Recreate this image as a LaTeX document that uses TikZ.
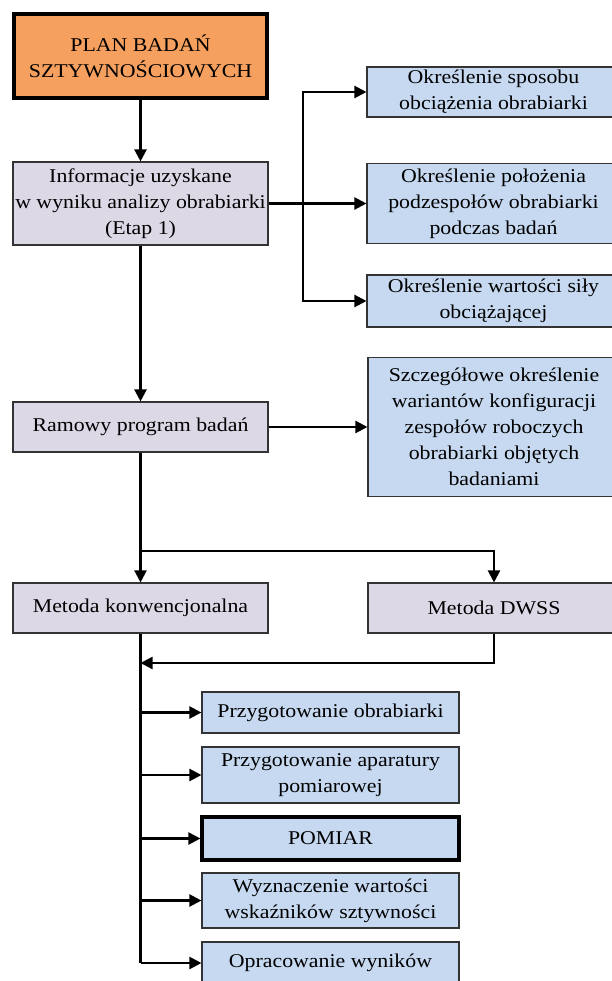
\documentclass[tikz,border=0pt]{standalone}
\usepackage{fontspec}
\setmainfont{Liberation Serif}[FakeStretch=1.12]
\usetikzlibrary{arrows.meta}
\definecolor{orangefill}{HTML}{F5A05E}
\definecolor{lavfill}{HTML}{DDD8E6}
\definecolor{bluefill}{HTML}{C6D9F1}
\definecolor{edgegray}{HTML}{333333}
\tikzset{
  box/.style={draw=edgegray, line width=1.1pt, rectangle, align=center, inner sep=0pt,
    font=\fontsize{19.5}{26}\selectfont},
  lav/.style={box, fill=lavfill},
  blu/.style={box, fill=bluefill},
  thickbox/.style={draw=black, line width=3.2pt},
  conn/.style={draw=black, line width=2.2pt},
  arr/.style={conn, -{Triangle[length=12pt,width=12pt]}},
}
\begin{document}
\begin{tikzpicture}[x=1pt,y=-1pt]
\clip (0,0) rectangle (612,981);
\fill[white] (0,0) rectangle (612,981);
% top
\node[box, fill=orangefill, thickbox, minimum width=253pt, minimum height=84pt] (plan) at (140.5,56) {PLAN BADAŃ\\SZTYWNOŚCIOWYCH};
\node[lav, minimum width=255pt, minimum height=83pt] (info) at (140.5,203.5) {Informacje uzyskane\\w wyniku analizy obrabiarki\\(Etap 1)};
% right column
\node[blu, minimum width=253pt, minimum height=50pt] (b1) at (493.5,92) {Określenie sposobu\\obciążenia obrabiarki};
\node[blu, minimum width=253pt, minimum height=80pt] (b2) at (493.5,203.5) {Określenie położenia\\podzespołów obrabiarki\\podczas badań};
\node[blu, minimum width=253pt, minimum height=52pt] (b3) at (493.5,301) {Określenie wartości siły\\obciążającej};
% middle
\node[lav, minimum width=255pt, minimum height=50pt] (ram) at (140.5,427) {Ramowy program badań};
\node[blu, minimum width=252pt, minimum height=139pt] (szcz) at (494,427) {Szczegółowe określenie\\wariantów konfiguracji\\zespołów roboczych\\obrabiarki objętych\\badaniami};
\node[lav, minimum width=255pt, minimum height=50pt] (konw) at (140.5,608) {Metoda konwencjonalna};
\node[lav, minimum width=252pt, minimum height=50pt] (dwss) at (494,608) {Metoda DWSS};
% steps
\node[blu, minimum width=257pt, minimum height=41pt] (s1) at (330.5,712.5) {Przygotowanie obrabiarki};
\node[blu, minimum width=257pt, minimum height=56pt] (s2) at (330.5,775) {Przygotowanie aparatury\\pomiarowej};
\node[blu, thickbox, minimum width=257pt, minimum height=43pt] (s3) at (330.5,838.5) {POMIAR};
\node[blu, minimum width=257pt, minimum height=55pt] (s4) at (330.5,900.5) {Wyznaczenie wartości\\wskaźników sztywności};
\node[blu, minimum width=257pt, minimum height=42pt] (s5) at (330.5,963) {Opracowanie wyników};
% connectors
\draw[arr] (plan.south) -- (info.north);
\coordinate (j) at (303,203.5);
\draw[arr] (info.east) -- (b2.west);
\draw[arr] (j) |- (b1.west);
\draw[arr] (j) |- (b3.west);
\draw[arr] (info.south) -- (ram.north);
\draw[arr] (ram.east) -- (szcz.west);
\draw[arr] (ram.south) -- (konw.north);
\coordinate (br) at (140.5,551);
\draw[arr] (br) -| (dwss.north);
\coordinate (fb) at (140.5,663);
\draw[arr] (dwss.south) |- (fb);
\coordinate (bot) at (140.5,963);
\draw[conn] (konw.south) -- (bot);
\foreach \s in {s1,s2,s3,s4,s5} {
  \draw[arr] (bot |- \s.west) -- (\s.west);
}
\end{tikzpicture}
\end{document}
